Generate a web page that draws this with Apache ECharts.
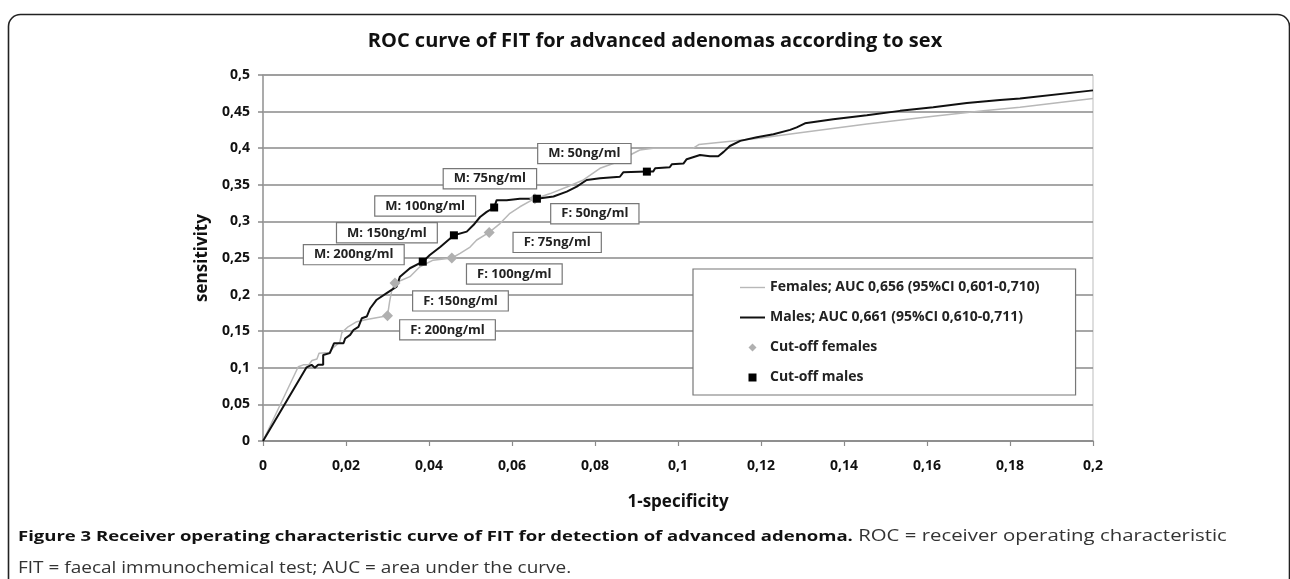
<!DOCTYPE html>
<html><head><meta charset="utf-8">
<script src="https://cdn.jsdelivr.net/npm/echarts@6/dist/echarts.min.js"></script>
<style>html,body{margin:0;padding:0;background:#fff}#c{width:1290px;height:579px}</style>
</head><body><div id="c"></div>
<script>
const chartTitle = 'ROC curve of FIT for advanced adenomas according to sex';
const xTickLabels = ['0','0,02','0,04','0,06','0,08','0,1','0,12','0,14','0,16','0,18','0,2'];
const yTickLabels = ['0','0,05','0,1','0,15','0,2','0,25','0,3','0,35','0,4','0,45','0,5'];
const seriesNames = ['Females; AUC 0,656 (95%CI 0,601-0,710)','Males; AUC 0,661 (95%CI 0,610-0,711)','Cut-off females','Cut-off males'];

const femalesX = [0,0.0085,0.0097,0.011,0.0118,0.013,0.0135,0.016,0.017,0.0185,0.019,0.0205,0.0226,0.025,0.028,0.030,0.0305,0.031,0.0318,0.0335,0.0354,0.0378,0.041,0.0455,0.0475,0.0499,0.0515,0.0545,0.0571,0.0595,0.0619,0.0651,0.0692,0.0732,0.0772,0.0812,0.0844,0.0875,0.0908,0.094,0.1037,0.105,0.1133,0.12,0.1294,0.1455,0.1615,0.1736,0.1824,0.2];
const femalesY = [0,0.1015,0.104,0.104,0.11,0.112,0.12,0.121,0.128,0.135,0.148,0.156,0.163,0.166,0.169,0.171,0.19,0.205,0.216,0.22,0.2245,0.238,0.247,0.25,0.2564,0.265,0.2746,0.285,0.297,0.311,0.32,0.33,0.338,0.347,0.3566,0.3725,0.379,0.388,0.3975,0.40,0.40,0.405,0.41,0.414,0.421,0.433,0.4435,0.451,0.456,0.468];

const malesX = [0,0.0105,0.0117,0.0125,0.0133,0.0145,0.0145,0.0161,0.0171,0.0194,0.0198,0.021,0.0218,0.023,0.0238,0.025,0.0258,0.0274,0.0298,0.0322,0.033,0.0354,0.0385,0.0402,0.0427,0.046,0.0491,0.0507,0.0523,0.0539,0.0557,0.0563,0.0587,0.0619,0.066,0.07,0.0732,0.0756,0.078,0.0812,0.086,0.0868,0.0925,0.094,0.0945,0.098,0.0985,0.1013,0.1021,0.1025,0.1053,0.1077,0.1097,0.111,0.1125,0.115,0.119,0.123,0.127,0.1286,0.1306,0.1374,0.1455,0.1535,0.1615,0.1696,0.1776,0.1824,0.2];
const malesY = [0,0.1007,0.104,0.1,0.104,0.104,0.1175,0.12,0.1335,0.1335,0.14,0.145,0.1516,0.156,0.1676,0.17,0.181,0.193,0.202,0.211,0.2245,0.236,0.245,0.254,0.265,0.281,0.286,0.295,0.306,0.313,0.319,0.329,0.329,0.331,0.331,0.334,0.3406,0.3474,0.3566,0.359,0.361,0.367,0.368,0.368,0.3725,0.374,0.378,0.379,0.385,0.3875,0.3907,0.389,0.389,0.395,0.403,0.41,0.415,0.419,0.425,0.4285,0.434,0.4395,0.445,0.451,0.456,0.4617,0.466,0.468,0.479];

const cutoffLabels = ['200ng/ml','150ng/ml','100ng/ml','75ng/ml','50ng/ml'];
const cutFemX = [0.030,0.0318,0.0455,0.0545,0.0655];
const cutFemY = [0.171,0.216,0.250,0.285,0.331];
const cutMaleX = [0.0385,0.046,0.0557,0.066,0.0925];
const cutMaleY = [0.245,0.281,0.319,0.331,0.368];

// label box offsets (styling only)
const femLabelOffsets = [[60,14],[65.5,18],[62.5,16],[68,10],[60,15]];
const maleLabelOffsets = [[-69,-7],[-67,-2.5],[-69,-1.5],[-47,-20],[-62.5,-18]];

const captionBold = 'Figure 3 Receiver operating characteristic curve of FIT for detection of advanced adenoma.';
const captionRest1 = ' ROC = receiver operating characteristic';
const captionLine2 = 'FIT = faecal immunochemical test; AUC = area under the curve.';

const FONT = '"Open Sans", Lato, sans-serif';
const zip = (xs, ys) => xs.map((x, i) => [x, ys[i]]);
const labelBox = {
  show: true, position: 'inside', color: '#222', fontFamily: FONT, fontWeight: 'bold', fontSize: 13,
  backgroundColor: '#fff', borderColor: '#777', borderWidth: 1.2, padding: [3, 10, 3, 10]
};
const cutData = (xs, ys, prefix, offs) => xs.map((x, i) => ({
  value: [x, ys[i]],
  label: Object.assign({}, labelBox, { formatter: prefix + cutoffLabels[i], offset: offs[i] })
}));

const legendIcons = ['path://M0 0H25V1.4H0Z', 'path://M0 0H25V2H0Z', 'path://M5 0L10 5L5 10L0 5Z', 'path://M0 0H10V10H0Z'];

const chart = echarts.init(document.getElementById('c'), null, { renderer: 'canvas' });
chart.setOption({
  backgroundColor: '#fff',
  animation: false,
  title: {
    text: chartTitle, left: 655, top: 28, textAlign: 'center', padding: 0,
    textStyle: { fontFamily: FONT, fontWeight: 'bold', fontSize: 20, color: '#111', lineHeight: 26 }
  },
  grid: { left: 263, right: 197, top: 75, bottom: 138, show: true, borderColor: '#bdbdbd', borderWidth: 1, backgroundColor: 'transparent' },
  legend: {
    orient: 'vertical', left: 693, top: 269, itemWidth: 25, itemHeight: 8, itemGap: 13,
    symbolKeepAspect: true,
    padding: [10, 36, 9, 47], backgroundColor: '#fff', borderColor: '#777', borderWidth: 1.2,
    textStyle: { fontFamily: FONT, fontWeight: 'bold', fontSize: 14, color: '#222', lineHeight: 17 },
    data: seriesNames.map((n, i) => ({ name: n, icon: legendIcons[i] }))
  },
  xAxis: {
    type: 'value', min: 0, max: 0.2, interval: 0.02,
    name: '1-specificity', nameLocation: 'middle', nameGap: 53,
    nameTextStyle: { fontFamily: FONT, fontWeight: 'bold', fontSize: 17, color: '#111' },
    axisLine: { show: true, lineStyle: { color: '#8a8a8a', width: 1.5 } },
    axisTick: { show: true, inside: false, length: 5, lineStyle: { color: '#8a8a8a', width: 1.2 } },
    axisLabel: { margin: 18, fontFamily: FONT, fontWeight: 'bold', fontSize: 14, color: '#111',
      formatter: (v) => xTickLabels[Math.round(v / 0.02)] },
    splitLine: { show: false }
  },
  yAxis: {
    type: 'value', min: 0, max: 0.5, interval: 0.05,
    name: 'sensitivity', nameLocation: 'middle', nameGap: 51, nameRotate: 90,
    nameTextStyle: { fontFamily: FONT, fontWeight: 'bold', fontSize: 17, color: '#111' },
    axisLine: { show: true, lineStyle: { color: '#9a9a9a', width: 1.5 } },
    axisTick: { show: true, inside: false, length: 5, lineStyle: { color: '#8a8a8a', width: 1.5 } },
    axisLabel: { margin: 13, fontFamily: FONT, fontWeight: 'bold', fontSize: 14, color: '#111',
      formatter: (v) => yTickLabels[Math.round(v / 0.05)] },
    splitLine: { show: true, lineStyle: { color: '#8a8a8a', width: 1.5 } }
  },
  series: [
    { name: seriesNames[0], type: 'line', data: zip(femalesX, femalesY), symbol: 'none', showSymbol: false,
      lineStyle: { color: '#b8b8b8', width: 1.5 }, itemStyle: { color: '#b8b8b8' }, z: 3 },
    { name: seriesNames[1], type: 'line', data: zip(malesX, malesY), symbol: 'none', showSymbol: false,
      lineStyle: { color: '#111', width: 2 }, itemStyle: { color: '#111' }, z: 3 },
    { name: seriesNames[2], type: 'scatter', symbol: 'diamond', symbolSize: 11,
      itemStyle: { color: '#b0b0b0', opacity: 1 }, data: cutData(cutFemX, cutFemY, 'F: ', femLabelOffsets), z: 5 },
    { name: seriesNames[3], type: 'scatter', symbol: 'rect', symbolSize: 8,
      itemStyle: { color: '#000', opacity: 1 }, data: cutData(cutMaleX, cutMaleY, 'M: ', maleLabelOffsets), z: 6 }
  ],
  graphic: [
    { type: 'rect', left: 6, top: 12, z: -10, silent: true,
      shape: { width: 1281, height: 600, r: 12 }, style: { fill: 'none', stroke: '#222', lineWidth: 1.6 } },
    { type: 'text', x: 18, y: 528, scaleX: 1.234, z: 10, silent: true,
      style: { text: '{b|' + captionBold + '}{n|' + captionRest1 + '}', fill: '#333',
        rich: { b: { fontFamily: '"Open Sans", sans-serif', fontWeight: 'bold', fontSize: 15, fill: '#111' },
                n: { fontFamily: '"Open Sans", sans-serif', fontWeight: 'normal', fontSize: 16.5, fill: '#333' } } } },
    { type: 'text', x: 18, y: 561, scaleX: 1.234, z: 10, silent: true,
      style: { text: captionLine2, font: '15.4px "Open Sans", sans-serif', fill: '#333' } }
  ]
});
</script></body></html>
